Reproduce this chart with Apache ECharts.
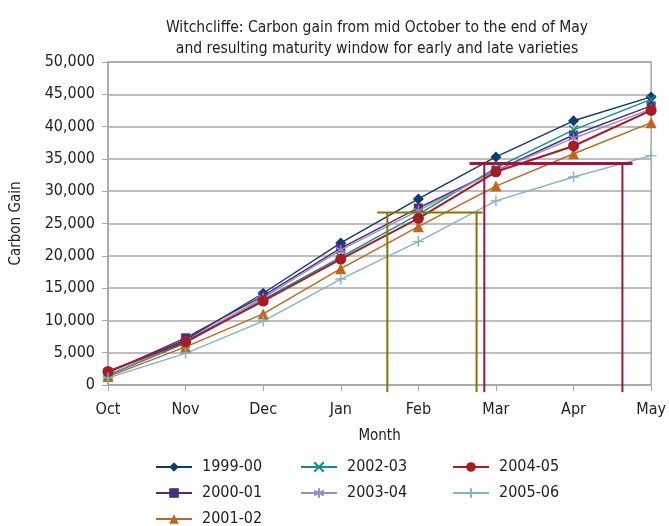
<!DOCTYPE html>
<html>
<head>
<meta charset="utf-8">
<script src="https://cdn.jsdelivr.net/npm/echarts@6/dist/echarts.min.js"></script>
<style>
  html, body { margin: 0; padding: 0; background: #fff; }
  #main { width: 669px; height: 526px; }
</style>
</head>
<body>
<div id="main"></div>
<script>
var months = ['Oct', 'Nov', 'Dec', 'Jan', 'Feb', 'Mar', 'Apr', 'May'];

var s1999 = [2000, 7000, 14200, 22000, 28800, 35300, 40900, 44600];
var s2000 = [1900, 7300, 13800, 21200, 27400, 33200, 38700, 43200];
var s2001 = [1300, 5900, 11000, 18000, 24500, 30800, 35800, 40600];
var s2002 = [1500, 6500, 13200, 19800, 26400, 33600, 39500, 44200];
var s2003 = [1600, 6800, 13500, 20900, 27000, 33200, 38200, 42700];
var s2004 = [2100, 6700, 13000, 19500, 25800, 33000, 37000, 42500];
var s2005 = [1100, 4900, 9900, 16400, 22200, 28500, 32200, 35500];

// maturity windows, x in month index units (Oct = 0)
var earlyLevel = 26700;
var earlySpan = [3.47, 4.83];
var earlyBounds = [3.60, 4.75];
var lateLevel = 34300;
var lateSpan = [4.66, 6.76];
var lateBounds = [4.85, 6.63];
var windowBase = -1100;

var font = '"Liberation Sans Narrow", "DejaVu Sans Condensed", sans-serif';

var symX = 'path://M0,0L10,10M10,0L0,10';
var symStar = 'path://M5,0L5,10M0.7,2.5L9.3,7.5M0.7,7.5L9.3,2.5';
var symPlus = 'path://M5,0L5,10M0,5L10,5';

function yearSeries(name, data, color, symbol, size, stroke) {
  return {
    name: name,
    type: 'line',
    data: data,
    symbol: symbol,
    symbolSize: size,
    lineStyle: { color: color, width: name === '2004-05' ? 2 : 1.4 },
    itemStyle: stroke
      ? { color: 'none', borderColor: color, borderWidth: 1.4 }
      : { color: color },
    z: 3
  };
}

function windowLine(points, color, width) {
  return {
    type: 'line',
    xAxisIndex: 1,
    data: points,
    symbol: 'none',
    clip: false,
    silent: true,
    lineStyle: { color: color, width: width },
    z: 4
  };
}

var olive = '#8a7400';
var crimson = '#a2143c';

var series = [
  yearSeries('1999-00', s1999, '#0e3b70', 'diamond', 11),
  yearSeries('2000-01', s2000, '#4a2d80', 'rect', 9),
  yearSeries('2001-02', s2001, '#c0661c', 'triangle', 11),
  yearSeries('2002-03', s2002, '#138c8c', symX, 9, true),
  yearSeries('2003-04', s2003, '#9d8ac6', symStar, 10, true),
  yearSeries('2004-05', s2004, '#a51c24', 'circle', 11),
  yearSeries('2005-06', s2005, '#84b4c0', symPlus, 11, true),
  windowLine([[earlySpan[0], earlyLevel], [earlySpan[1], earlyLevel]], olive, 2),
  windowLine([[earlyBounds[0], windowBase], [earlyBounds[0], earlyLevel]], olive, 2),
  windowLine([[earlyBounds[1], windowBase], [earlyBounds[1], earlyLevel]], olive, 2),
  windowLine([[lateSpan[0], lateLevel], [lateSpan[1], lateLevel]], crimson, 3),
  windowLine([[lateBounds[0], windowBase], [lateBounds[0], lateLevel]], crimson, 2),
  windowLine([[lateBounds[1], windowBase], [lateBounds[1], lateLevel]], crimson, 2)
];

function legendColumn(left, names) {
  return {
    orient: 'vertical',
    left: left,
    top: 459,
    height: 90,
    itemWidth: 36,
    itemHeight: 12,
    itemGap: 10,
    padding: 0,
    data: names,
    selectedMode: false,
    textStyle: { fontFamily: font, fontSize: 16, color: '#222', padding: [0, 0, 0, 5] }
  };
}

var chart = echarts.init(document.getElementById('main'));
chart.setOption({
  animation: false,
  backgroundColor: '#fff',
  title: {
    text: 'Witchcliffe: Carbon gain from mid October to the end of May\nand resulting maturity window for early and late varieties',
    left: 372,
    textAlign: 'center',
    top: 12,
    textStyle: { fontFamily: font, fontSize: 15.5, fontWeight: 'normal', color: '#222', lineHeight: 21 }
  },
  legend: [
    legendColumn(155, ['1999-00', '2000-01', '2001-02']),
    legendColumn(300, ['2002-03', '2003-04']),
    legendColumn(452, ['2004-05', '2005-06'])
  ],
  grid: {
    left: 108, right: 17, top: 62, bottom: 141,
    show: true, borderColor: '#a8a8a8', borderWidth: 1.5
  },
  xAxis: [{
    type: 'category',
    data: months,
    boundaryGap: false,
    name: 'Month',
    nameLocation: 'middle',
    nameGap: 44,
    nameTextStyle: { fontFamily: font, fontSize: 15, color: '#222' },
    axisLine: { lineStyle: { color: '#a8a8a8', width: 1.5 } },
    axisTick: { show: true, length: 6, alignWithLabel: true, lineStyle: { color: '#a8a8a8' } },
    axisLabel: { fontFamily: font, fontSize: 16, color: '#222', margin: 17 },
    splitLine: { show: false }
  }, {
    type: 'value',
    min: 0,
    max: months.length - 1,
    show: false
  }],
  yAxis: {
    type: 'value',
    min: 0,
    max: 50000,
    interval: 5000,
    name: 'Carbon Gain',
    nameLocation: 'middle',
    nameGap: 84,
    nameTextStyle: { fontFamily: font, fontSize: 15, color: '#222' },
    axisLine: { show: true, lineStyle: { color: '#a8a8a8', width: 1.5 } },
    axisTick: { show: true, length: 6, lineStyle: { color: '#a8a8a8' } },
    axisLabel: {
      fontFamily: font, fontSize: 16, color: '#222', margin: 13,
      formatter: function (v) { return v.toLocaleString('en-US'); }
    },
    splitLine: { lineStyle: { color: '#a8a8a8', width: 1.5 } }
  },
  series: series
});
</script>
</body>
</html>
